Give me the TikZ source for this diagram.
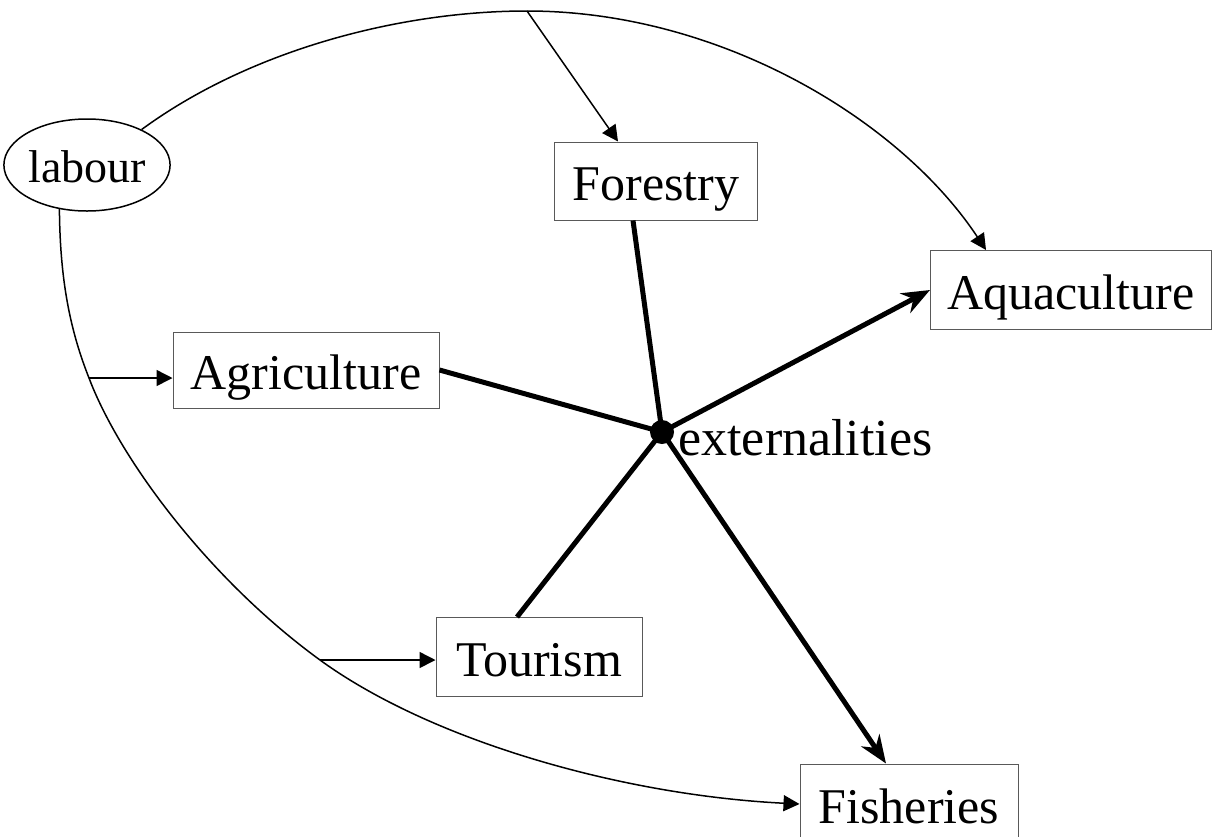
\documentclass[tikz,border=0pt]{standalone}
\usepackage{fontspec}
\setmainfont{Liberation Serif}
\usetikzlibrary{arrows.meta,shapes.geometric}

\begin{document}
\begin{tikzpicture}[x=0.5pt,y=-0.5pt,
        font=\fontsize{25}{30}\selectfont,
        sector/.style={rectangle,draw=black!65,line width=0.5pt,inner sep=0pt,text height=24pt,text depth=5pt},
        flow/.style={line width=0.75pt,-{Triangle[length=8pt,width=8pt]}},
        effect/.style={line width=2.5pt}]
            \useasboundingbox (0,0) rectangle (1224,836);

            \node[draw,ellipse,line width=0.75pt,minimum width=76pt,minimum height=46pt,inner sep=0pt,text height=22pt,text depth=5pt,font=\fontsize{23}{28}\selectfont] (labour) at (87,165) {labour};
            \node[sector,minimum width=101.5pt,minimum height=39pt] (forestry) at (656,181) {Forestry};
            \node[sector,minimum width=140.5pt,minimum height=39.5pt] (aqua) at (1071,290) {Aquaculture};
            \node[sector,minimum width=133pt,minimum height=38pt] (agri) at (306,370) {Agriculture};
            \node[sector,minimum width=103pt,minimum height=39.5pt] (tourism) at (539,657) {Tourism};
            \node[sector,minimum width=109pt,minimum height=40pt] (fish) at (909,804) {Fisheries};

            \node[circle,fill=black,minimum size=12pt,inner sep=0pt] (ext) at (662,432) {};
            \node[anchor=base west,inner sep=0pt,font=\fontsize{26}{30}\selectfont] (extlabel) at (678,455) {externalities};

            % labour
            \coordinate (top) at (527,11);
            \coordinate (j1) at (89,378);
            \coordinate (j2) at (320,660);
            \draw[line width=0.75pt] (labour.33) .. controls (250,50) and (400,11) .. (top);
            \draw[flow] (top) .. controls (720,11) and (900,120) .. ([xshift=28pt]aqua.north west);
            \draw[flow] (top) -- ([xshift=-19pt]forestry.north);
            \draw[line width=0.75pt] (labour.238) .. controls (60,280) and (70,330) .. (j1) .. controls (120,460) and (210,580) .. (j2);
            \draw[flow] (j2) .. controls (430,740) and (620,795) .. (fish.west);
            \draw[flow] (j1) -- (j1 -| agri.west);
            \draw[flow] (j2) -- (j2 -| tourism.west);

            % externalities
            \draw[effect] ([xshift=-11.5pt]forestry.south) -- (ext.center);
            \draw[effect] (agri.east) -- (ext.center);
            \draw[effect] ([xshift=-11pt]tourism.north) -- (ext.center);
            \draw[effect,-{Stealth[length=14pt,width=11pt]}] (ext.center) -- (aqua.west);
            \draw[effect,-{Stealth[length=14pt,width=11pt]}] (ext.center) -- ([xshift=-11.5pt]fish.north);
        \end{tikzpicture}
\end{document}
